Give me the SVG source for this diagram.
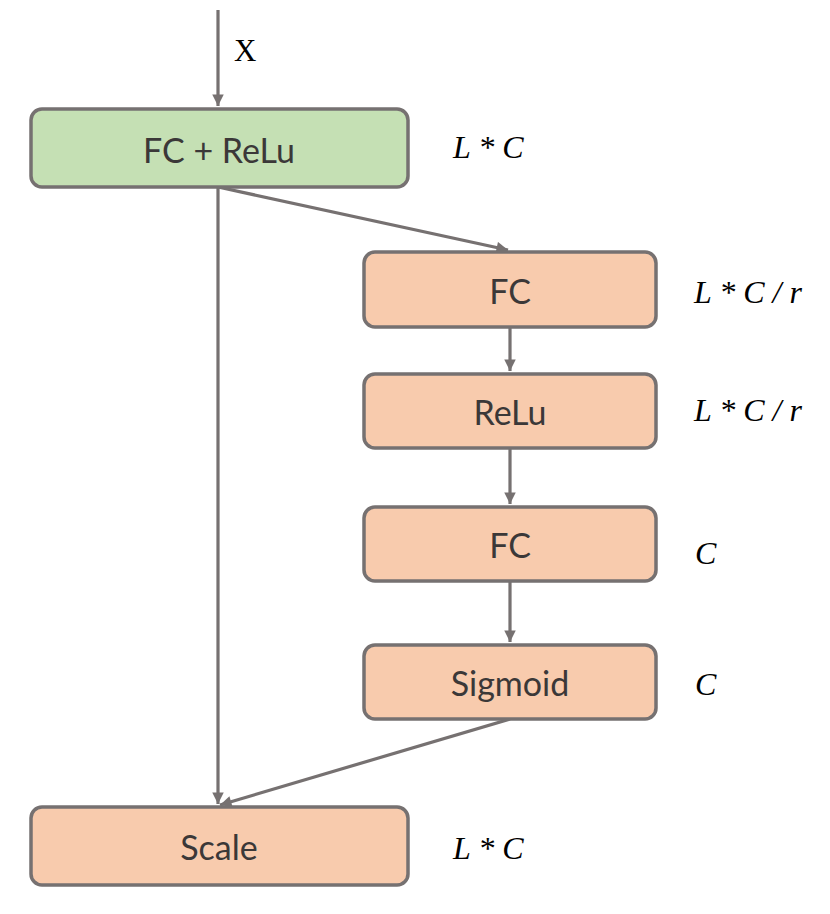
<svg xmlns="http://www.w3.org/2000/svg" width="830" height="914" viewBox="0 0 830 914">
<defs>
<marker id="ah" viewBox="0 0 10 10" refX="10" refY="5" markerWidth="4" markerHeight="3.6" orient="auto" markerUnits="strokeWidth">
<path d="M0,0 L10,5 L0,10 z" fill="#767171"/>
</marker>
<style>
.box{stroke:#767171;stroke-width:3.5}
.g{fill:#c5e0b4}
.o{fill:#f8cbad}
.t{font-family:Lato,"Open Sans",sans-serif;font-size:34px;fill:#3b3838;text-anchor:middle;dominant-baseline:central}
.m{font-family:"Liberation Serif",serif;font-style:italic;font-size:32px;fill:#000}
.c{stroke:#767171;stroke-width:3.2;fill:none;marker-end:url(#ah)}
</style>
</defs>
<rect width="830" height="914" fill="#fff"/>
<g id="connectors">
<line class="c" x1="218" y1="10" x2="218" y2="106"/>
<line class="c" x1="218" y1="187" x2="218" y2="804"/>
<line class="c" x1="218" y1="187" x2="508" y2="250"/>
<line class="c" x1="510" y1="327" x2="510" y2="371"/>
<line class="c" x1="510" y1="448" x2="510" y2="504"/>
<line class="c" x1="510" y1="581" x2="510" y2="642"/>
<line class="c" x1="510" y1="719" x2="220" y2="805"/>
</g>
<text x="234" y="61" style="font-family:'Liberation Serif',serif;font-size:31px">X</text>
<g id="fc_relu">
<rect class="box g" x="31" y="109" width="377" height="78" rx="11"/>
<text class="t" x="219" y="149">FC + ReLu</text>
</g>
<g id="fc1">
<rect class="box o" x="364" y="252" width="292" height="75" rx="11"/>
<text class="t" x="510" y="290">FC</text>
</g>
<g id="relu">
<rect class="box o" x="364" y="374" width="292" height="74" rx="11"/>
<text class="t" x="510" y="411">ReLu</text>
</g>
<g id="fc2">
<rect class="box o" x="364" y="507" width="292" height="74" rx="11"/>
<text class="t" x="510" y="544">FC</text>
</g>
<g id="sigmoid">
<rect class="box o" x="364" y="645" width="292" height="74" rx="11"/>
<text class="t" x="510" y="682">Sigmoid</text>
</g>
<g id="scale">
<rect class="box o" x="31" y="807" width="377" height="78" rx="11"/>
<text class="t" x="219" y="846">Scale</text>
</g>
<text class="m" x="453" y="158">L * C</text>
<text class="m" x="694" y="303">L * C / r</text>
<text class="m" x="694" y="421">L * C / r</text>
<text class="m" x="695" y="564">C</text>
<text class="m" x="695" y="695">C</text>
<text class="m" x="453" y="859">L * C</text>
</svg>
